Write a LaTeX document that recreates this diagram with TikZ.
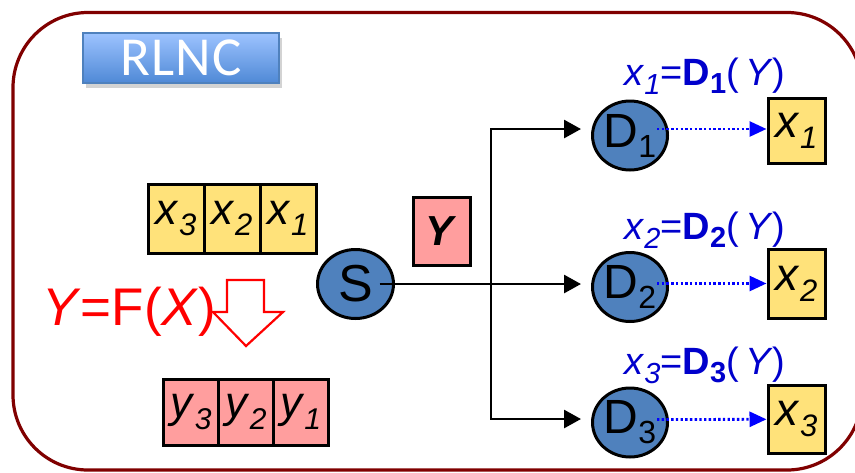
\documentclass[tikz,border=0pt]{standalone}
\usepackage{fontspec}
\setmainfont{Liberation Sans}
\newfontfamily\carl{Carlito}
\usetikzlibrary{arrows.meta,shadows,calc,shapes.geometric}
\definecolor{framered}{RGB}{128,0,0}
\definecolor{cellyel}{RGB}{255,226,122}
\definecolor{cellpink}{RGB}{255,158,158}
\definecolor{nodeblue}{RGB}{79,129,189}
\definecolor{lblblue}{RGB}{0,0,204}
\definecolor{dotblue}{RGB}{0,0,255}
\definecolor{rltop}{RGB}{157,195,255}
\definecolor{rlbot}{RGB}{79,137,214}
\definecolor{rlborder}{RGB}{79,129,189}
\newcommand\fs[1]{\fontsize{#1}{#1}\selectfont}
\newcommand\cellx[1]{\textit{x}\raisebox{-11pt}{\fs{31}\textit{#1}}}
\newcommand\celly[1]{\textit{y}\raisebox{-12pt}{\fs{30}\textit{#1}}}
\newcommand\lbl[1]{\textit{x}\raisebox{-9pt}{\fs{29}\textit{#1}}=\textbf{D\raisebox{-8pt}{\fs{29}#1}}(\,\textit{Y})}
\begin{document}
\begin{tikzpicture}[x=1pt,y=-1pt,
  cellA/.style={draw=black,line width=3pt,fill=cellyel,minimum width=56pt,minimum height=69pt,inner sep=0pt,font=\fs{44}},
  cellB/.style={draw=black,line width=3pt,fill=cellpink,minimum width=55pt,minimum height=66pt,inner sep=0pt,font=\fs{44}},
  outbox/.style={draw=black,line width=3pt,fill=cellyel,minimum width=57pt,minimum height=67pt,inner sep=0pt,font=\fs{46}},
  blob/.style={ellipse,draw=black,line width=3pt,fill=nodeblue,minimum width=75pt,minimum height=69pt,inner sep=0pt},
  arr/.style={line width=2.8pt,-{Triangle[length=17pt,width=18pt]}},
  dotarr/.style={dotblue,line width=2.8pt,dash pattern=on 2.4pt off 2.3pt,-{Triangle[length=17pt,width=15pt]}},
  lblstyle/.style={text=lblblue,font=\fs{38},anchor=base,inner sep=0pt}
]
\path[use as bounding box] (0,0) rectangle (855,472);
\begin{scope}
\clip (0,0) rectangle (855,472);
\draw[framered,line width=3.2pt,rounded corners=75pt] (13,12.5) rectangle (862,470);
\end{scope}

% RLNC title
\node[draw=rlborder,line width=1.5pt,top color=rltop,bottom color=rlbot,
  drop shadow={shadow xshift=3pt,shadow yshift=-5pt,opacity=0.35},
  minimum width=196pt,minimum height=50pt,inner sep=0pt,text=white,font=\carl\fs{55}]
  (title) at (181,58) {R\kern1pt L\kern1pt N\kern1pt C};

% source blocks
\node[cellA] (x3) at (176,218.5) {\cellx{3}};
\node[cellA] (x2) at (232,218.5) {\cellx{2}};
\node[cellA] (x1) at (288,218.5) {\cellx{1}};

\node[cellB] (y3) at (191,412) {\celly{3}};
\node[cellB] (y2) at (246,412) {\celly{2}};
\node[cellB] (y1) at (300.5,412) {\celly{1}};

% hollow down arrow
\draw[red,line width=2.2pt,fill=white,line join=miter]
  (227,280) -- (264,280) -- (264,312) -- (283,312) -- (246,346) -- (213,312) -- (227,312) -- cycle;
\node[text=red,font=\fs{53},anchor=base west,inner sep=0pt] (eq) at (42,325) {\textit{Y}=F(\textit{X})};

% coded packet
\node[draw=black,line width=3pt,fill=cellpink,minimum width=57pt,minimum height=68pt,inner sep=0pt,font=\fs{42}]
  (Ybox) at (441.5,231) {\textbf{\textit{Y}}};

% source and decoders
\node[blob,minimum width=76pt,font=\fs{52}] (S) at (355.5,284) {S};
\node[blob,font=\fs{48}] (D1) at (630,135.5) {D\raisebox{-10pt}{\fs{32}1}};
\node[blob,font=\fs{48}] (D2) at (630,287) {D\raisebox{-10pt}{\fs{32}2}};
\node[blob,font=\fs{48}] (D3) at (630,422.5) {D\raisebox{-10pt}{\fs{32}3}};

% decoded outputs
\node[outbox,minimum height=65pt] (o1) at (796.5,130.5) {\cellx{1}};
\node[outbox,minimum height=69pt] (o2) at (796.5,283.5) {\cellx{2}};
\node[outbox,minimum height=68pt] (o3) at (796.5,419) {\cellx{3}};

% labels
\node[lblstyle] (l1) at (705,85) {\lbl{1}};
\node[lblstyle] (l2) at (705,239) {\lbl{2}};
\node[lblstyle] (l3) at (705,374) {\lbl{3}};

% connectors
\coordinate (J) at (491,284);
\draw[line width=2.8pt] ($(S.center)+(24,0)$) -- (J);
\draw[arr] (J) -- ($(D2.west)+(-10,-3)$);
\draw[arr] (J) |- ($(D1.west)+(-10,-6.5)$);
\draw[arr] (J) |- ($(D3.west)+(-10,-3.5)$);

\draw[dotarr] ($(D1.center)+(27,-6.5)$) -- ($(o1.west)+(0,-1.5)$);
\draw[dotarr] ($(D2.center)+(27,-3.5)$) -- (o2.west);
\draw[dotarr] ($(D3.center)+(27,-3)$) -- ($(o3.west)+(0,0.3)$);
\end{tikzpicture}
\end{document}
